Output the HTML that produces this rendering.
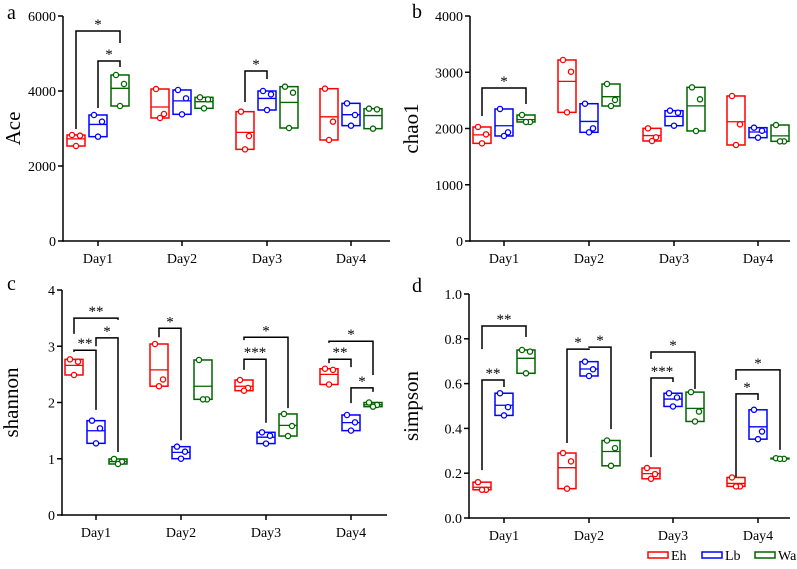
<!DOCTYPE html>
<html><head><meta charset="utf-8"><style>
html,body{margin:0;padding:0;background:#fff;}
svg, svg text{font-family:"Liberation Serif","DejaVu Serif",serif;}
</style></head><body>
<svg id="chart" width="797" height="564" viewBox="0 0 797 564" xmlns="http://www.w3.org/2000/svg" font-family="Liberation Serif, serif"></svg>
<script>
const days = ["Day1","Day2","Day3","Day4"];
const groups = ["Eh","Lb","Wa"];
const colors = ["#ff0000","#0000ff","#006400"];
// panel a: Ace
const aEh = [[2827,2809,2533],[4053,3387,3280],[3449,2800,2444],[4062,3182,2693]];
const aLb = [[3360,3182,2782],[4027,3804,3378],[4000,3911,3493],[3671,3360,3076]];
const aWa = [[4427,4187,3600],[3831,3778,3538],[4116,3956,3013],[3529,3511,2996]];
const aTicks = [0,2000,4000,6000];
const aSig = [[0,0,2,5600,2987,5280,"*"],[0,1,2,4800,3547,4640,"*"],[2,0,1,4533,3707,4320,"*"]];
// panel b: chao1
const bEh = [[2027,1896,1736],[3218,3010,2287],[2003,1843,1778],[2578,2074,1707]];
const bLb = [[2347,1932,1867],[2441,2003,1932],[2317,2281,2050],[2015,1961,1837]];
const bWa = [[2240,2116,2116],[2791,2507,2400],[2732,2519,1956],[2062,1772,1772]];
const bTicks = [0,1000,2000,3000,4000];
const bSig = [[0,0,2,2720,2222,2436,"*"]];
// panel c: shannon
const cEh = [[2.767,2.726,2.489],[3.04,2.41,2.29],[2.4,2.258,2.21],[2.6,2.58,2.32]];
const cLb = [[1.677,1.541,1.274],[1.215,1.126,1.001],[1.47,1.41,1.27],[1.778,1.647,1.5]];
const cWa = [[0.996,0.948,0.907],[2.756,2.056,2.056],[1.796,1.582,1.404],[2.0,1.956,1.926]];
const cTicks = [0,1,2,3,4];
const cSig = [[0,0,2,3.50,3.22,3.47,"**"],[0,0,1,2.93,2.90,1.87,"**"],[0,1,2,3.15,3.0,1.12,"*"],
  [1,0,1,3.32,3.16,1.33,"*"],[2,0,1,2.77,2.58,1.64,"***"],[2,0,2,3.16,3.11,1.90,"*"],
  [3,0,1,2.77,2.70,2.63,"**"],[3,0,2,3.09,3.06,2.49,"*"],[3,1,2,2.26,1.99,2.19,"*"]];
// panel d: simpson
const dEh = [[0.16,0.126,0.126],[0.29,0.253,0.131],[0.223,0.196,0.175],[0.181,0.141,0.141]];
const dLb = [[0.557,0.495,0.458],[0.698,0.664,0.634],[0.557,0.538,0.498],[0.483,0.386,0.352]];
const dWa = [[0.75,0.743,0.646],[0.346,0.312,0.233],[0.562,0.475,0.431],[0.267,0.264,0.264]];
const dTicks = [0,0.2,0.4,0.6,0.8,1.0];
const dTickLabels = ["0.0","0.2","0.4","0.6","0.8","1.0"];
const dSig = [[0,0,2,0.857,0.754,0.808,"**"],[0,0,1,0.616,0.214,0.585,"**"],[1,0,1,0.754,0.335,0.75,"*"],
  [1,1,2,0.763,0.76,0.397,"*"],[2,0,1,0.625,0.272,0.607,"***"],[2,0,2,0.741,0.71,0.576,"*"],
  [3,0,1,0.554,0.183,0.527,"*"],[3,0,2,0.661,0.616,0.304,"*"]];

const svg = document.getElementById('chart');
const NS = "http://www.w3.org/2000/svg";
const FF = "Liberation Serif, DejaVu Serif, serif";
function mk(tag, attrs, parent){const e=document.createElementNS(NS,tag);for(const k in attrs)e.setAttribute(k,attrs[k]);if(tag==='text')e.setAttribute('font-family',FF);(parent||svg).appendChild(e);return e;}

function panel(cfg){
  const g = mk('g',{});
  
  
  const y = v => cfg.y0 + (v - cfg.min)/(cfg.max - cfg.min)*(cfg.y1 - cfg.y0);
  const x = (d,gi) => cfg.dayX[d] + (gi-1)*22;
  const ya = mk('line',{x1:cfg.ax,y1:cfg.y1,x2:cfg.ax,y2:cfg.y0+0.75,stroke:'#000','stroke-width':1.5},g);
  
  
  const xa = mk('line',{x1:cfg.ax-0.75,y1:cfg.y0,x2:cfg.axEnd,y2:cfg.y0,stroke:'#000','stroke-width':1.5},g);
  
  
  cfg.ticks.forEach((t,i)=>{
    mk('line',{x1:cfg.ax-5,y1:y(t),x2:cfg.ax,y2:y(t),stroke:'#000','stroke-width':1.5},g);
    const tl = mk('text',{x:cfg.ax-7,y:y(t)+5,'text-anchor':'end','font-size':14,fill:'#000'},g);
    tl.textContent = cfg.tickLabels ? cfg.tickLabels[i] : t;
    
    
  });
  days.forEach((d,i)=>{
    mk('line',{x1:cfg.dayX[i],y1:cfg.y0,x2:cfg.dayX[i],y2:cfg.y0+5,stroke:'#000','stroke-width':1.5},g);
    const dl = mk('text',{x:cfg.dayX[i],y:cfg.y0+22,'text-anchor':'middle','font-size':14},g);
    dl.textContent = d;
    
    
  });
  const tt = mk('text',{x:cfg.titleX,y:(cfg.y0+cfg.y1)/2,'text-anchor':'middle','font-size':21,transform:`rotate(-90 ${cfg.titleX} ${(cfg.y0+cfg.y1)/2})`},g);
  tt.textContent = cfg.title;
  
  
  const pl = mk('text',{x:cfg.labelX,y:cfg.labelY,'font-size':20},g);
  pl.textContent = cfg.id;
  
  
  cfg.series.forEach((ser,gi)=>{
    ser.forEach((pts,di)=>{
      const cx = x(di,gi);
      const mn = Math.min(...pts), mx = Math.max(...pts), mean = pts.reduce((a,b)=>a+b,0)/pts.length;
      const b = mk('rect',{x:cx-9,y:y(mx),width:18,height:Math.max(y(mn)-y(mx),0.5),fill:'none',stroke:colors[gi],'stroke-width':1.5},g);
      
      
      mk('line',{x1:cx-9,y1:y(mean),x2:cx+9,y2:y(mean),stroke:colors[gi],'stroke-width':1.3},g);
      pts.forEach((p,pi)=>{
        const off = pts.length===3 ? [-4,4,0][pi] : 0;
        const c = mk('circle',{cx:cx+off,cy:y(p),r:2.6,fill:'#fff',stroke:colors[gi],'stroke-width':1.3},g);
        
        
      });
    });
  });
  cfg.sig.forEach(s=>{
    const [d,g1,g2,top,lv,rv,lab] = s;
    const x1 = x(d,g1), x2 = x(d,g2);
    const p = mk('polyline',{points:`${x1},${y(lv)} ${x1},${y(top)} ${x2},${y(top)} ${x2},${y(rv)}`,fill:'none',stroke:'#000','stroke-width':1.5},g);
    
    
    const st = mk('text',{x:(x1+x2)/2,y:y(top)-2,'text-anchor':'middle','font-size':15},g);
    st.textContent = lab;
    
    
  });
}

panel({id:'a',series:[aEh,aLb,aWa],ticks:aTicks,sig:aSig,min:0,max:6000,y0:241,y1:16,ax:63,axEnd:390,dayX:[98,182,267,351],title:'Ace',titleX:20,labelX:7,labelY:19});
panel({id:'b',series:[bEh,bLb,bWa],ticks:bTicks,sig:bSig,min:0,max:4000,y0:241,y1:16,ax:470,axEnd:790,dayX:[504,589,674,758],title:'chao1',titleX:418,labelX:412,labelY:18});
panel({id:'c',series:[cEh,cLb,cWa],ticks:cTicks,sig:cSig,min:0,max:4,y0:515,y1:290,ax:62,axEnd:387,dayX:[96,181,266,351],title:'shannon',titleX:18,labelX:7,labelY:290});
panel({id:'d',series:[dEh,dLb,dWa],ticks:dTicks,tickLabels:dTickLabels,sig:dSig,min:0,max:1,y0:518,y1:294,ax:469,axEnd:790,dayX:[504,589,673,758],title:'simpson',titleX:418,labelX:412,labelY:292});

const lg = mk('g',{});


const legX = [648,702,755];
groups.forEach((gname,i)=>{
  const r = mk('rect',{x:legX[i],y:552,width:20,height:6,fill:'none',stroke:colors[i],'stroke-width':1.5},lg);
  
  
  const t = mk('text',{x:legX[i]+23,y:560,'font-size':14},lg);
  t.textContent = gname;
  
  
});
</script>
</body></html>
